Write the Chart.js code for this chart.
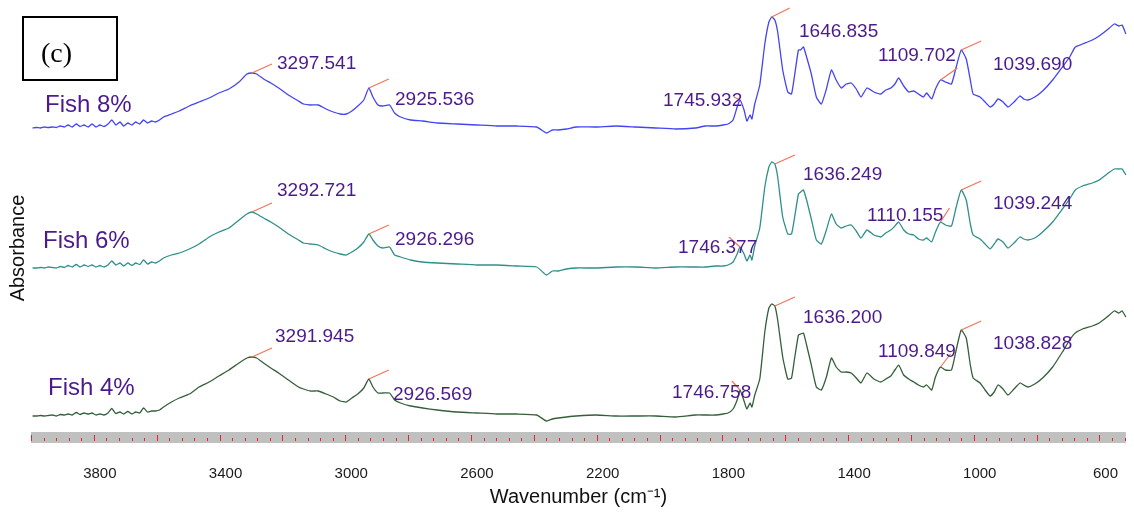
<!DOCTYPE html>
<html>
<head>
<meta charset="utf-8">
<script src="https://cdn.jsdelivr.net/npm/chart.js@4.4.1/dist/chart.umd.min.js"></script>
<style>
  html, body { margin: 0; padding: 0; background: #fff; }
</style>
</head>
<body>
<canvas id="ftir" width="1134" height="516"></canvas>
<script>
// ---- Data (wavenumber in cm-1, absorbance in arbitrary units)
const wavenumbers = [
  3995,3983,3970,3957,3945,3932,3919,3907,3894,3882,3869,3856,3844,3831,3818,3806,3793,3781,3768,3755,
  3743,3730,3717,3705,3692,3679,3667,3654,3642,3629,3616,3604,3591,3578,
  3553,3528,3496,3465,3433,3402,3370,3338,3313,3297,3282,3260,3237,3212,3181,3149,3133,3111,3086,3061,
  3038,3016,2997,2979,2960,2941,2925,2912,2896,2881,2859,2843,
  2824,2792,2754,2707,2644,2581,2518,2454,2391,2360,2341,2322,2296,2265,2202,2139,2075,2012,1949,1886,
  1854,1823,1798,1782,1766,
  1753,1744,1731,1722,1712,1706,1697,1681,1665,1652, 1643,1633,1624,1608,1592,1580,1570,1558,1551,1542,
  1532,1517,1501,1485,1469,1453,1438,1422,1406,1390, 1374,1359,1340,1318,1296,1280,1264,1251,1239,1223,
  1207,1191,1176,1160,1150,1134,1122,1106,1090,1071, 1056,1040,1024,1011,1002,980,964,948,935,923,
  907,891,872,853,841,828,806,781,749,718, 695,677,654,623,601,576,553,538,528,516
];

const fish8 = [
  0,0.5,0,1,0.5,1,0.5,2,1,3,1,4,1.5,3,1,4,1,3,1.5,4,8,3,6,2,5,3,6,4,8,5,7,6,8,11,
  14,17,22,26,30,35,39,46,54,55,54,49,45,40,33,27,24,23,23,19,16,14,14,17,22,28,40,31,23,22,23,15,
  11,8,7,5,4,3,2,2,1,-5,-2,-2,-1,1,1,2,1,0,-1,0,2,2,3,4,8,
  21,28,18,7,13,9,24,43,84,106, 111,108,96,58,36,34,53,78,78,81,
  71,54,31,24,39,58,48,40,44,45, 39,31,40,36,34,38,40,44,50,42,
  36,37,34,31,35,29,39,48,46,44, 61,78,69,48,34,31,26,21,24,29,
  26,21,26,32,29,28,31,37,48,61, 71,81,84,88,92,98,104,102,103,94
];

const fish6 = [
  0,0,0.5,0,1,0.5,0,1.5,0.5,2.5,1,3.5,1,3,1.5,3,1,2.5,1,3,7,3,5,2,5,2.5,5,3.5,8,4,6,5,7,10,
  13,15,19,24,31,36,40,48,54,56,54,50,46,41,34,28,25,24,23,19,16,14,13,16,20,26,34,28,22,20,21,13,
  11,8,6,5,4,3,3,2,1,-7,-3,-3,-1,0,0,1,1,0,1,1,1,2,2,3,6,
  14,21,14,7,13,8,22,40,81,101, 106,104,91,51,34,34,51,74,76,78,
  68,49,28,24,38,54,44,40,42,43, 37,30,38,33,31,35,38,42,46,38,
  34,33,29,28,30,26,36,46,43,42, 61,78,68,44,33,29,24,19,24,29,
  26,20,25,31,29,28,30,36,46,59, 69,78,82,85,88,94,99,99,99,93
];

const fish4 = [
  0,0,0.5,0,0.5,1,0,1.5,1,2,1,3.5,1.5,3,2,3,1,2,1,3,7.5,2.5,4,2,4.5,2,4,3,8,4,5,5,6,9,
  14,18,22,29,34,40,46,53,58,59,58,53,48,43,36,29,27,25,25,22,19,15,14,18,22,28,37,29,23,23,23,16,
  13,10,8,6,4,3,2,2,1,-5,-3,-2,-1,0,1,0,0,0,-1,1,1,1,2,3,7,
  16,26,15,7,13,9,21,37,84,108, 112,110,96,59,37,38,58,81,82,83,
  71,51,29,26,39,58,49,44,44,43, 38,33,43,37,34,37,40,46,51,41,
  37,34,31,29,31,26,39,49,46,46, 66,86,78,51,38,33,26,20,24,31,
  27,21,27,33,31,29,32,38,49,64, 76,83,87,90,93,99,105,103,105,99
];

const seriesNames = ['Fish 8%', 'Fish 6%', 'Fish 4%'];
const stackOffsets = [315, 175, 27];   // vertical offset of each stacked trace

const peaks8 = [3297.541, 2925.536, 1745.932, 1646.835, 1109.702, 1039.690];
const peaks6 = [3292.721, 2926.296, 1746.377, 1636.249, 1110.155, 1039.244];
const peaks4 = [3291.945, 2926.569, 1746.758, 1636.200, 1109.849, 1038.828];

const tickLabels = [3800, 3400, 3000, 2600, 2200, 1800, 1400, 1000, 600];

// ---- Styling / layout (not data)
const FONT = '"Liberation Sans", Arial, sans-serif';
const lineColors = ['#4444f2', '#2f8f8c', '#355f3a'];
const labelColor = '#4b1a8c';
const markColor = '#f2735a';
const seriesLabelPos = [[45, 105], [43, 241], [48, 388]];
// peak label [left x, middle y] and marker line vector from the peak point
const peakLabelPos = [
  [[277, 64], [395, 100], [663, 101], [799, 32], [878, 56], [993, 65]],
  [[277, 191], [395, 240], [678, 248], [803, 175], [867, 216], [993, 204]],
  [[275, 337], [393, 395], [672, 393], [803, 318], [878, 352], [993, 344]]
];
const markVec = [
  [[20, -9], [20, -9], [-6, -3], [18, -9], [17, -12], [20, -9]],
  [[20, -9], [20, -9], [-11, -10], [20, -9], [9, -14], [20, -9]],
  [[20, -9], [20, -9], [-8, -9], [20, -9], [10, -13], [20, -9]]
];

const allSeries = [fish8, fish6, fish4];
const allPeaks = [peaks8, peaks6, peaks4];

const nearestIndex = (w) => {
  let best = 0;
  wavenumbers.forEach((v, i) => { if (Math.abs(v - w) < Math.abs(wavenumbers[best] - w)) best = i; });
  return best;
};

// gray strip with red ticks along the bottom of the plot, plus annotations
const decorations = {
  id: 'decorations',
  beforeDatasetsDraw(chart) {
    const { ctx, chartArea: a, scales: { x } } = chart;
    ctx.save();
    ctx.fillStyle = '#c0c0c0';
    ctx.fillRect(a.left, a.bottom - 11, a.right - a.left, 11);
    ctx.strokeStyle = '#e32626';
    ctx.lineWidth = 1;
    for (let w = 4000; w >= x.min; w -= 40) {
      const px = Math.round(x.getPixelForValue(w)) + 0.5;
      const major = (4000 - w) % 200 === 0;
      ctx.beginPath();
      ctx.moveTo(px, a.bottom - (major ? 8 : 5));
      ctx.lineTo(px, a.bottom - 2);
      ctx.stroke();
    }
    ctx.restore();
  },
  afterDatasetsDraw(chart) {
    const { ctx, scales: { x, y } } = chart;
    ctx.save();
    // peak markers + labels
    allPeaks.forEach((peaks, s) => {
      peaks.forEach((p, k) => {
        const i = nearestIndex(p);
        const px = x.getPixelForValue(wavenumbers[i]);
        const py = y.getPixelForValue(allSeries[s][i] + stackOffsets[s]);
        const [dx, dy] = markVec[s][k];
        ctx.strokeStyle = markColor;
        ctx.lineWidth = 1.2;
        ctx.beginPath();
        ctx.moveTo(px, py);
        ctx.lineTo(px + dx, py + dy);
        ctx.stroke();
        ctx.fillStyle = labelColor;
        ctx.font = '19px ' + FONT;
        ctx.textAlign = 'left';
        ctx.textBaseline = 'middle';
        ctx.fillText(p.toFixed(3), peakLabelPos[s][k][0], peakLabelPos[s][k][1]);
      });
      ctx.font = '24px ' + FONT;
      ctx.fillStyle = labelColor;
      ctx.fillText(seriesNames[s], seriesLabelPos[s][0], seriesLabelPos[s][1]);
    });
    // panel tag
    ctx.strokeStyle = '#000';
    ctx.lineWidth = 2;
    ctx.strokeRect(23, 17, 94, 63);
    ctx.fillStyle = '#000';
    ctx.font = '28px "Liberation Serif", "Times New Roman", serif';
    ctx.textBaseline = 'middle';
    ctx.fillText('(c)', 41, 55);
    ctx.restore();
  }
};

new Chart(document.getElementById('ftir'), {
  type: 'line',
  data: {
    datasets: allSeries.map((arr, s) => ({
      label: seriesNames[s],
      data: wavenumbers.map((w, i) => ({ x: w, y: arr[i] + stackOffsets[s] })),
      borderColor: lineColors[s],
      borderWidth: 1.3,
      pointRadius: 0,
      tension: 0.15,
      fill: false,
      clip: false
    }))
  },
  options: {
    responsive: false,
    animation: false,
    devicePixelRatio: 1,
    layout: { padding: { top: 53, left: 0, right: 0, bottom: 0 } },
    plugins: { legend: { display: false }, tooltip: { enabled: false } },
    scales: {
      x: {
        type: 'linear',
        reverse: true,
        min: 516,
        max: 4000,
        afterBuildTicks: (s) => { s.ticks = tickLabels.map(v => ({ value: v })); },
        afterFit: (s) => { s.height = 73; },
        grid: { display: false, drawTicks: false },
        border: { display: false },
        ticks: {
          padding: 22,
          labelOffset: 6,
          autoSkip: false,
          maxRotation: 0,
          color: '#1a1a1a',
          font: { family: FONT, size: 15 },
          callback: (v) => String(v)
        },
        title: {
          display: true,
          text: 'Wavenumber (cm⁻¹)',
          color: '#111',
          font: { family: FONT, size: 20 },
          padding: { top: 0, bottom: 7 }
        }
      },
      y: {
        min: 0,
        max: 390,
        afterFit: (s) => { s.width = 31; },
        grid: { display: false, drawTicks: false },
        border: { display: false },
        ticks: { display: false },
        title: {
          display: true,
          text: 'Absorbance',
          color: '#111',
          font: { family: FONT, size: 20 },
          padding: { top: 6, bottom: 1 }
        }
      }
    }
  },
  plugins: [decorations]
});
</script>
</body>
</html>
